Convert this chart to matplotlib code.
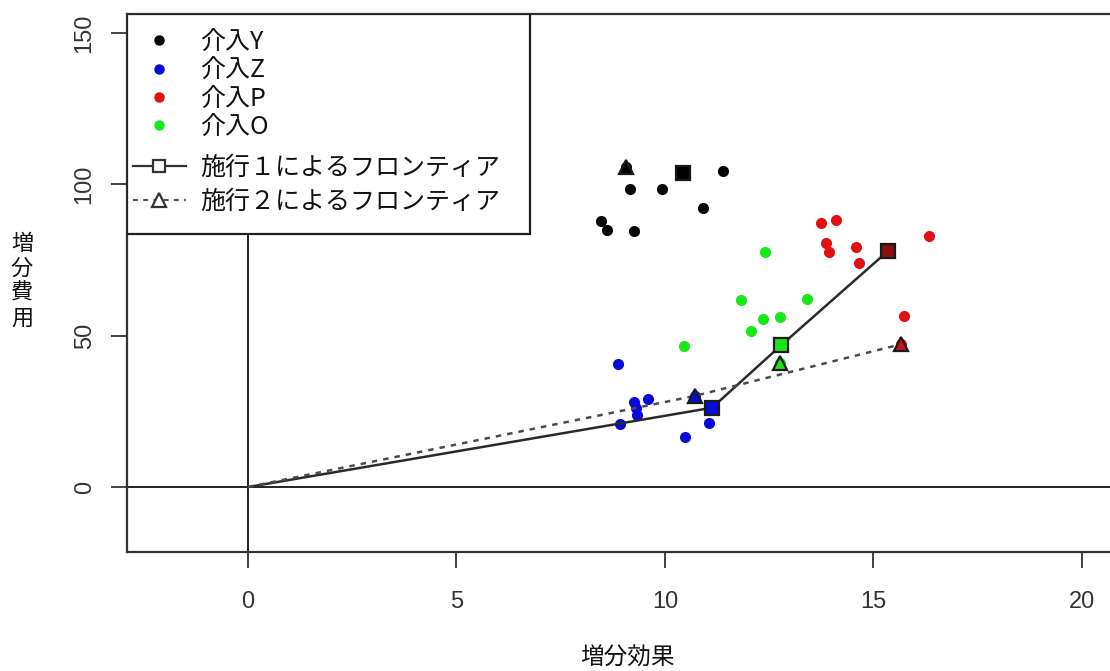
import matplotlib
matplotlib.use('Agg')
import matplotlib.pyplot as plt
from matplotlib.patches import Rectangle
from matplotlib.lines import Line2D

plt.rcParams['font.family'] = ['Noto Sans CJK JP', 'DejaVu Sans']

# ---- data ----
y_x = [8.46, 8.62, 9.16, 9.26, 9.94, 10.91, 11.40, 9.06, 10.43]
y_y = [88.0, 84.9, 98.4, 84.7, 98.4, 92.1, 104.5, 105.8, 103.8]
z_x = [8.88, 9.26, 9.60, 9.30, 9.34, 8.92, 11.05, 10.48, 10.71, 11.13]
z_y = [40.5, 28.2, 29.1, 26.0, 23.8, 20.8, 21.0, 16.4, 30.1, 26.2]
p_x = [13.75, 14.09, 13.87, 13.93, 14.59, 14.66, 16.34, 15.74, 15.35, 15.67]
p_y = [87.1, 88.2, 80.5, 77.5, 79.4, 73.9, 82.9, 56.6, 78.0, 47.2]
o_x = [12.39, 11.83, 13.40, 12.35, 12.76, 12.07, 10.45, 12.79, 12.76]
o_y = [77.5, 61.8, 62.1, 55.5, 56.1, 51.6, 46.6, 46.9, 40.9]

series_labels = ['介入Y', '介入Z', '介入P', '介入O']
series_colors = ['#000000', '#0a0ad8', '#e21010', '#18e818']

trial1_x = [10.43, 11.13, 12.79, 15.35]
trial1_y = [103.8, 26.2, 46.9, 78.0]
trial1_c = ['#000000', '#0a0ad8', '#18e818', '#8a1010']
frontier1_x = [0, 11.13, 12.79, 15.35]
frontier1_y = [0, 26.2, 46.9, 78.0]

trial2_x = [9.06, 10.71, 12.76, 15.67]
trial2_y = [105.8, 30.1, 40.9, 47.2]
trial2_c = ['#000000', '#0a0ad8', '#18e818', '#c01818']
frontier2_x = [0, 10.71, 15.67]
frontier2_y = [0, 30.1, 47.2]

frontier_labels = ['施行１によるフロンティア', '施行２によるフロンティア']
x_ticks = [0, 5, 10, 15, 20]
y_ticks = [0, 50, 100, 150]

# ---- layout ----
W, H = 1110, 671
fig = plt.figure(figsize=(W / 100, H / 100), dpi=100)
ax_l, ax_r, ax_t, ax_b = 127, 1112, 14, 551.5
AW, AH = ax_r - ax_l, ax_b - ax_t
ax = fig.add_axes([ax_l / W, 1 - ax_b / H, AW / W, AH / H])
ax.set_xlim(-2.9, 20.72)
ax.set_ylim(-21.3, 156.3)

ax.axhline(0, color='#111111', lw=1.3, zorder=1)
ax.axvline(0, color='#111111', lw=1.3, zorder=1)

for xs, ys, c in zip([y_x, z_x, p_x, o_x], [y_y, z_y, p_y, o_y], series_colors):
    ax.plot(xs, ys, 'o', color=c, ms=7, mec=c, zorder=3)

ax.plot(frontier1_x, frontier1_y, '-', color='#2a2a2a', lw=1.8, zorder=4)
ax.plot(frontier2_x, frontier2_y, linestyle=(0, (2.2, 2.4)), color='#4a4a4a', lw=1.8, zorder=4)

for x, y, c in zip(trial1_x, trial1_y, trial1_c):
    ax.plot([x], [y], 's', ms=9.5, mfc=c, mec='#1a1a1a', mew=1.6, zorder=5)
for x, y, c in zip(trial2_x, trial2_y, trial2_c):
    ax.plot([x], [y], '^', ms=10.5, mfc=c, mec='#1a1a1a', mew=1.6, zorder=5)

ax.set_xticks(x_ticks)
ax.set_yticks(y_ticks)
ax.tick_params(direction='out', length=11.5, width=1.3, color='#333333',
               labelsize=17, labelcolor='#333333')
ax.tick_params(axis='x', pad=17)
ax.tick_params(axis='y', pad=11)
for lab in ax.get_xticklabels() + ax.get_yticklabels():
    lab.set_family(['Liberation Sans', 'DejaVu Sans'])
for lab in ax.get_yticklabels():
    lab.set_rotation(90)
    lab.set_va('center')
for side in ['left', 'bottom', 'top', 'right']:
    ax.spines[side].set_color('#333333')
    ax.spines[side].set_linewidth(1.6)

# legend box
box_w = (530 - ax_l) / AW
box_h = (234 - ax_t) / AH
ax.add_patch(Rectangle((0, 1 - box_h), box_w, box_h, transform=ax.transAxes,
                       facecolor='white', edgecolor='#222222', lw=1.6, zorder=8))

common = dict(loc='upper left', frameon=False, fontsize=18, handlelength=2.1,
              handletextpad=0.6, borderpad=0, borderaxespad=0)

h1 = [Line2D([], [], marker='o', ls='none', color=c, ms=6.5) for c in series_colors]
leg1 = ax.legend(h1, series_labels, bbox_to_anchor=((133 - ax_l) / AW, 1 - (29 - ax_t) / AH),
                 labelspacing=0.09, **common)
leg1.set_zorder(9)
ax.add_artist(leg1)

h2 = [Line2D([], [], marker='s', ls='-', color='#333333', mfc='white', mec='#333333', ms=9, mew=1.6, lw=1.6),
      Line2D([], [], marker='^', ls=(0, (2.2, 2.4)), color='#555555', mfc='white', mec='#333333', ms=10, mew=1.6, lw=1.6)]
leg2 = ax.legend(h2, frontier_labels, bbox_to_anchor=((133 - ax_l) / AW, 1 - (155 - ax_t) / AH),
                 labelspacing=0.3, **common)
leg2.set_zorder(9)

for lg in (leg1, leg2):
    for t in lg.get_texts():
        t.set_color('#111111')

fig.text(627 / W, 1 - 658 / H, '増分効果', ha='center', va='center', fontsize=17, color='#111111')
fig.text(22 / W, 1 - 281 / H, '増\n分\n費\n用', ha='center', va='center', fontsize=16,
         color='#111111', linespacing=1.1)

fig.savefig('out.png', dpi=100, facecolor='white')
